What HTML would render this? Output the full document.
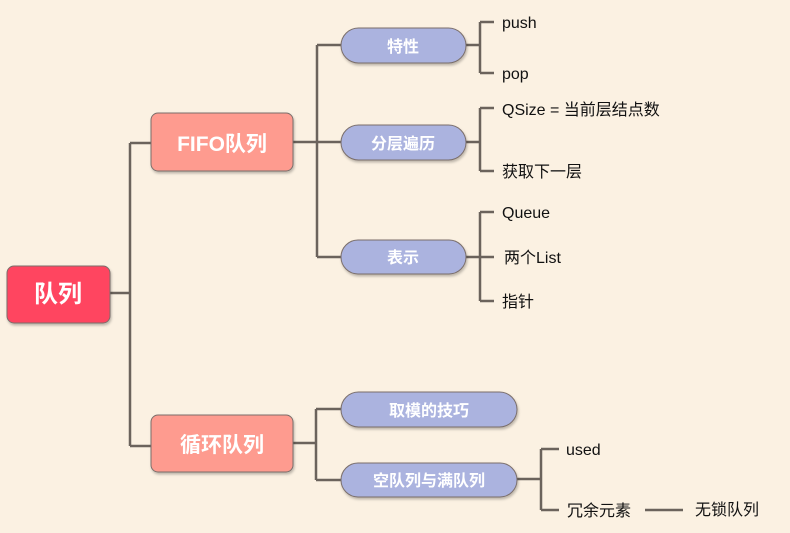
<!DOCTYPE html>
<html><head><meta charset="utf-8"><style>
html,body{margin:0;padding:0;background:#fbf1e2;}
body{width:790px;height:533px;overflow:hidden;position:relative;font-family:"Liberation Sans","Noto Sans CJK SC",sans-serif;}
</style></head><body>
<svg width="790" height="533" xmlns="http://www.w3.org/2000/svg" style="position:absolute;left:0;top:0">
<defs><filter id="s" x="-10%" y="-10%" width="130%" height="140%"><feDropShadow dx="1" dy="2" stdDeviation="1.2" flood-color="#000" flood-opacity="0.25"/></filter></defs>
<g stroke="#6b635c" stroke-width="2.5" fill="none">
<path d="M110 293H130M130 143V446M130 143H151M130 446H151"/>
<path d="M293 142H317M317 45V257M317 45H341M317 142H341M317 257H341"/>
<path d="M293 443H316M316 409V480M316 409H341M316 480H341"/>
<path d="M466 45H480M480 22V73M480 22H494M480 73H494"/>
<path d="M466 142H480M480 108V171M480 108H494M480 171H494"/>
<path d="M466 257H494M480 212V301M480 212H494M480 301H494"/>
<path d="M517 479H541M541 449V510M541 449H559M541 510H559"/>
<path d="M645 510H683"/>
</g>
<g filter="url(#s)" stroke="#7a6e6a" stroke-width="1">
<rect x="7" y="266" width="103" height="57" rx="7" fill="#ff4560"/>
<rect x="151" y="113" width="142" height="58" rx="7" fill="#fe9b8f"/>
<rect x="151" y="415" width="142" height="57" rx="7" fill="#fe9b8f"/>
<rect x="341" y="28" width="125" height="35" rx="17.5" fill="#abb3df"/>
<rect x="341" y="125" width="125" height="35" rx="17.5" fill="#abb3df"/>
<rect x="341" y="240" width="125" height="34" rx="17" fill="#abb3df"/>
<rect x="341" y="392" width="176" height="35" rx="17.5" fill="#abb3df"/>
<rect x="341" y="463" width="176" height="34" rx="17" fill="#abb3df"/>
</g>
<g fill="#fff" text-anchor="middle" font-weight="bold" font-family="Liberation Sans,Noto Sans CJK SC,sans-serif">
<text x="58" y="302" font-size="24">队列</text>
<text x="222" y="151" font-size="21">FIFO队列</text>
<text x="222" y="452" font-size="21">循环队列</text>
<text x="403" y="52" font-size="16">特性</text>
<text x="403" y="149" font-size="16">分层遍历</text>
<text x="403" y="263" font-size="16">表示</text>
<text x="429" y="416" font-size="16">取模的技巧</text>
<text x="429" y="486" font-size="16">空队列与满队列</text>
</g>
<g fill="#111" font-size="16" font-family="Liberation Sans,Noto Sans CJK SC,sans-serif">
<text x="502" y="28">push</text>
<text x="502" y="79">pop</text>
<text x="502" y="115">QSize = 当前层结点数</text>
<text x="502" y="177">获取下一层</text>
<text x="502" y="218">Queue</text>
<text x="504" y="263">两个List</text>
<text x="502" y="307">指针</text>
<text x="566" y="455">used</text>
<text x="567" y="516">冗余元素</text>
<text x="695" y="515">无锁队列</text>
</g>
</svg>
</body></html>
